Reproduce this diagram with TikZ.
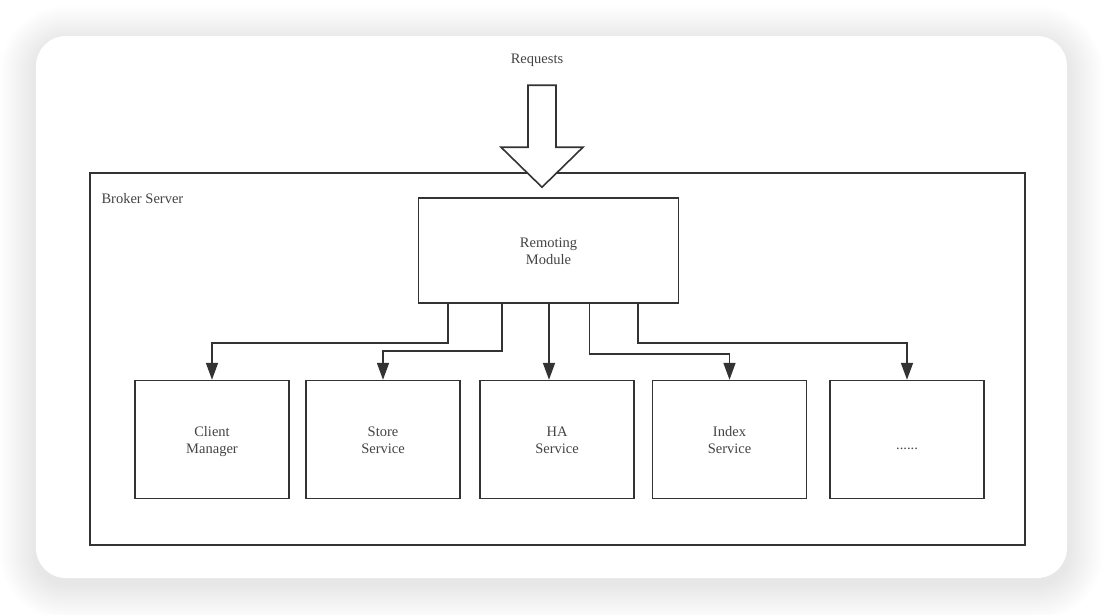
\documentclass[tikz,border=0pt]{standalone}
\usepackage{fontspec}
\setmainfont{Liberation Serif}
\usetikzlibrary{arrows.meta,positioning,calc}
\definecolor{edgegray}{HTML}{333333}
\definecolor{textgray}{HTML}{444444}

\begin{document}
\begin{tikzpicture}[x=1pt, y=-1pt,
  every node/.style={align=center, text=textgray, font=\fontsize{14.5}{17}\selectfont},
  box/.style={draw=edgegray, line width=1.6pt, fill=white, minimum width=154pt, minimum height=118pt, inner sep=0pt,
    text height=31pt, text depth=4pt},
  root/.style={box, minimum width=260pt, minimum height=105pt},
  outer/.style={draw=edgegray, line width=1.3pt, minimum width=935pt, minimum height=372pt, inner sep=0pt},
  arr/.style={draw=edgegray, line width=1.6pt, -{Triangle[length=17pt,width=12pt]}}
]
\useasboundingbox (0,0) rectangle (1104,614);
% card with soft shadow
\foreach \r [evaluate=\r as \rr using 30+1.5*\r] in {1,...,24}
  \fill[black, opacity=0.0045, rounded corners=\rr pt] (36-1.5*\r,42-1.5*\r) rectangle (1067+1.5*\r,584+1.5*\r);
\fill[white, rounded corners=30pt] (36,36) rectangle (1067,578);

\node[outer] (bs) at (557.5,359) {};
\node[anchor=west, inner sep=0pt] (bslabel) at ([xshift=12pt,yshift=-26pt]bs.north west) {Broker Server};

\node[root] (rm) at (548.5,250.5) {Remoting\\Module};
\node[box, below=76pt of rm, xshift=-336.5pt] (cm) {Client\\Manager};
\node[box, below=76pt of rm, xshift=-165.5pt] (ss) {Store\\Service};
\node[box, below=76pt of rm, xshift=8.5pt] (hs) {HA\\Service};
\node[box, below=76pt of rm, xshift=181pt] (is) {Index\\Service};
\node[box, below=76pt of rm, xshift=358.5pt, text height=23pt] (ms) {......};

% incoming requests
\node (req) at (537,60) {Requests};
\coordinate (tip) at ([xshift=-6.5pt,yshift=10pt]rm.north);
\draw[draw=edgegray, line width=1.6pt, fill=white, line join=miter] (tip) -- ++(-41,-40) -- ++(27,0) -- ++(0,-62) -- ++(28,0) -- ++(0,62) -- ++(27,0) -- cycle;

\draw[arr] ([xshift=-100.5pt]rm.south) -- ++(0,39) -| (cm.north);
\draw[arr] ([xshift=-46.5pt]rm.south) -- ++(0,47) -| (ss.north);
\draw[arr] ([xshift=0.5pt]rm.south) -- ++(0,76);
\draw[arr] ([xshift=41pt]rm.south) -- ++(0,50) -| (is.north);
\draw[arr] ([xshift=89.5pt]rm.south) -- ++(0,39) -| (ms.north);
\end{tikzpicture}
\end{document}
